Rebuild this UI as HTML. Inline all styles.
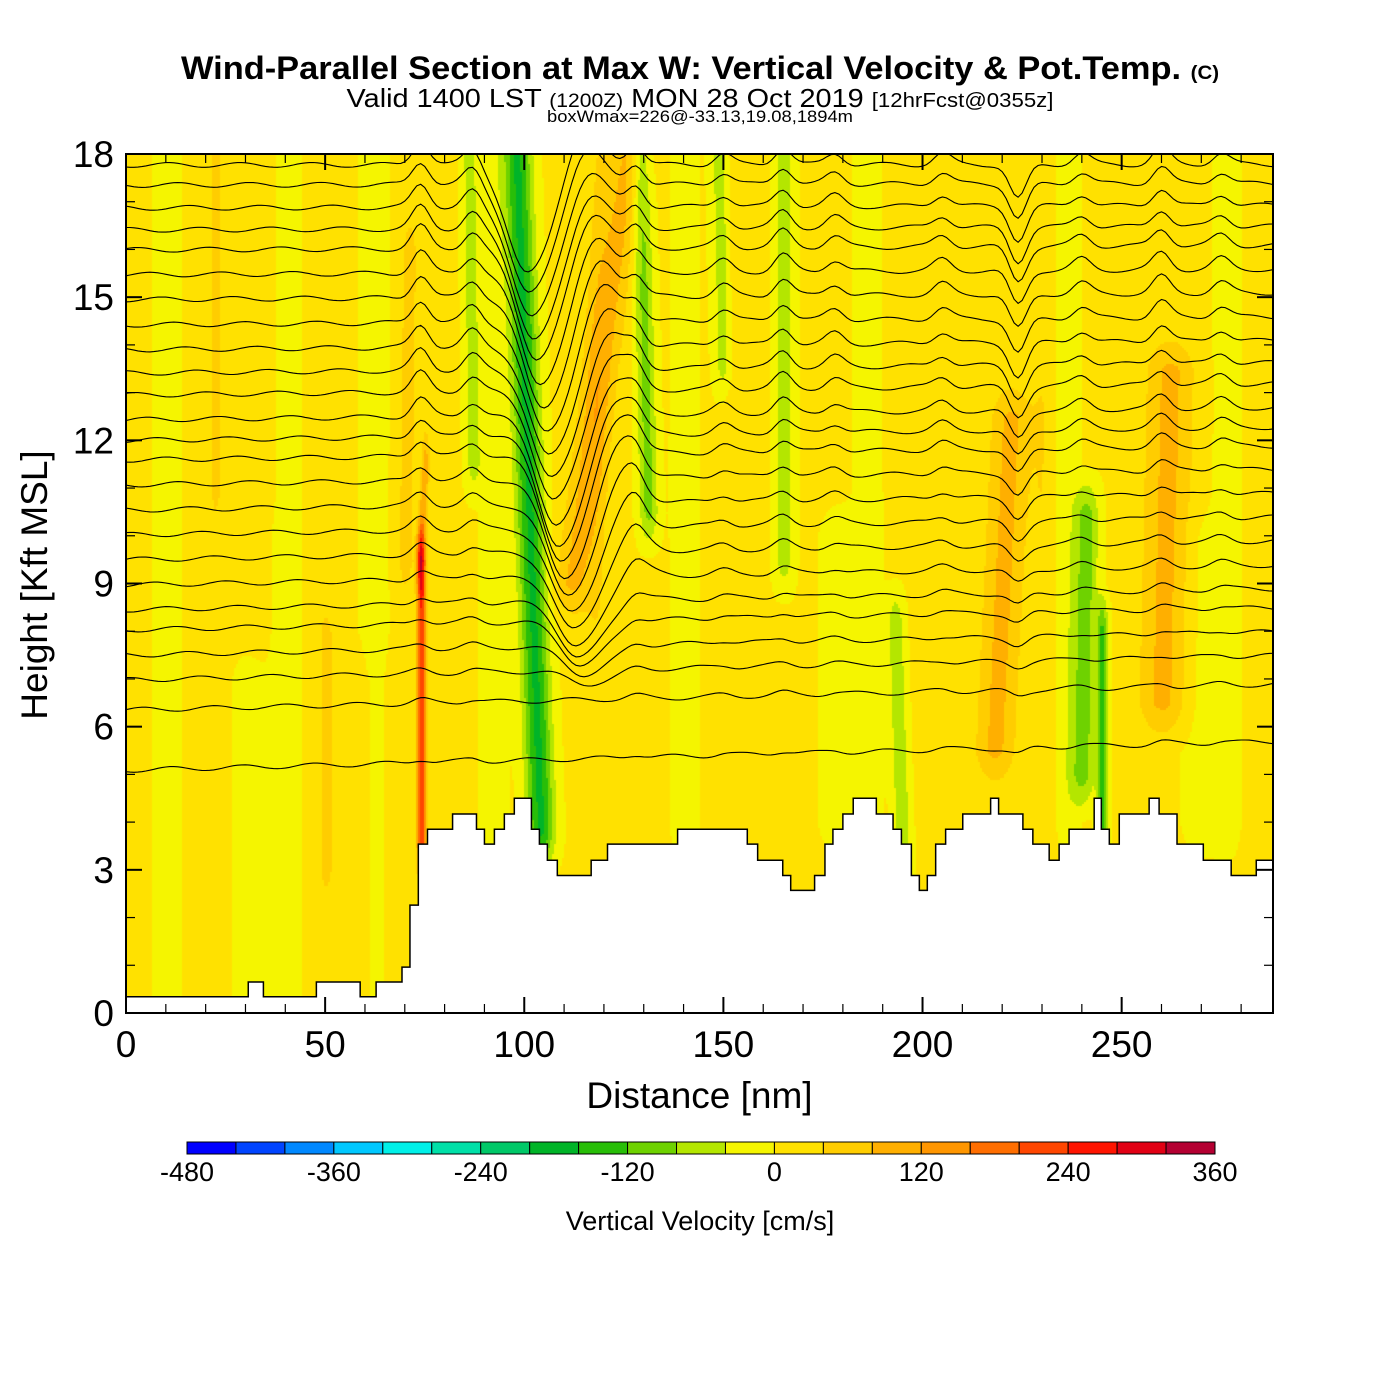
<!DOCTYPE html>
<html><head><meta charset="utf-8"><style>
html,body{margin:0;padding:0;background:#fff}
#root{position:relative;width:1400px;height:1400px;font-family:"Liberation Sans",sans-serif;overflow:hidden}
.t{position:absolute;white-space:nowrap;color:#000}
canvas{position:absolute;left:126px;top:154px}
svg{position:absolute;left:0;top:0}
</style></head><body>
<div id="root">
<div class="t" style="left:0;width:1400px;text-align:center;top:50px;font-size:32px;font-weight:bold;transform:scaleX(1.075);transform-origin:700px 0">Wind-Parallel Section at Max W: Vertical Velocity &amp; Pot.Temp. <span style="font-size:19px">(C)</span></div>
<div class="t" style="left:0;width:1400px;text-align:center;top:83px;font-size:26px;transform:scaleX(1.11);transform-origin:700px 0">Valid 1400 LST <span style="font-size:19px">(1200Z)</span> MON 28 Oct 2019 <span style="font-size:20px">[12hrFcst@0355z]</span></div>
<div class="t" style="left:0;width:1400px;text-align:center;top:107px;font-size:17px;transform:scaleX(1.08);transform-origin:700px 0">boxWmax=226@-33.13,19.08,1894m</div>
<canvas id="field" width="1147" height="859"></canvas>
<svg id="svg" width="1400" height="1400"></svg>
<div class="t" style="left:0;width:1399px;text-align:center;top:1075px;font-size:37px">Distance [nm]</div>
<div class="t" style="left:35px;top:585px;font-size:37px;transform:translate(-50%,-50%) rotate(-90deg)">Height [Kft MSL]</div>
<div class="t" style="left:0;width:1400px;text-align:center;top:1206px;font-size:27px">Vertical Velocity [cm/s]</div>
</div>
<script>
// ---- data ----
const colorBins = [-480,-440,-400,-360,-320,-280,-240,-200,-160,-120,-80,-40,0,40,80,120,160,200,240,280,320,360];
const binColors = ["#0000ff","#0044ff","#0088ff","#00c8ff","#00f0e8","#00e0a8","#00c868","#00b428","#28be08","#6ed200","#b4e600","#f5f500","#ffe100","#ffcd00","#ffaf00","#ff9600","#ff6e00","#ff4600","#ff1400","#e10014","#b40032"];
const cbTickValues = [-480,-360,-240,-120,0,120,240,360];
const xTicks = [0,50,100,150,200,250];
const yTicks = [0,3,6,9,12,15,18];
// terrain segments: start nm, height kft
const terrainStart = [0,30.7,34.5,47.8,58.8,62.8,69.3,71.3,73.4,75.7,82,88,90,92.5,95,97.5,101.8,103.8,105.8,108.3,116.8,120.9,138.5,156,158.6,164.9,166.9,172.9,175.5,177.5,180,182.6,188.4,192.6,194.7,197.2,199.2,201.2,203.3,205.8,210.1,217.1,219.1,225.2,227.7,231.8,234.3,236.8,243.1,244.9,246.9,249.4,256.9,259.4,263.9,270.5,277.5,283.8];
const terrainHeight = [0.34,0.65,0.34,0.65,0.34,0.65,0.96,2.26,3.54,3.85,4.17,3.85,3.54,3.85,4.17,4.5,3.85,3.54,3.2,2.88,3.2,3.54,3.85,3.54,3.2,2.88,2.57,2.88,3.54,3.85,4.17,4.5,4.17,3.85,3.54,2.88,2.57,2.88,3.54,3.85,4.17,4.5,4.17,3.85,3.54,3.2,3.54,3.85,4.5,3.85,3.54,4.17,4.5,4.17,3.54,3.2,2.88,3.2];
// w features: x at bottom, x at top, bottom kft, top kft, w (cm/s), half width nm
const featXBot = [74,73.5,104,112,131,150,165,87,195,240,245,218,260,70,50,10,40,62,92,140,186,236,276,22,118,152,230,30,60,180,270,30];
const featXTop = [74,75,98,126,129,149,165,86,193,241,245,222,262,71,50,10,40,62,92,140,186,236,276,22,118,152,230,30,60,180,270,30];
const featHBot = [3.5,9.5,3.8,9,10.5,13.5,9.5,11.5,3,5,3.5,5.5,6.5,9.5,3,0,0,0,0,4,4,4,4,0,4,4,4,0,0,4,4,11];
const featHTop = [9.5,11.5,18,18,18,18,18,18,8.2,10.5,8,12.5,13.5,16,8,18,18,18,18,18,18,18,18,18,18,18,18,7,7,10,10,18];
const featW = [240,110,-175,85,-100,-75,-70,-65,-80,-105,-135,85,85,65,50,-30,-30,-30,-30,-30,-30,-30,-30,30,30,30,30,-12,20,-20,-20,25];
const featHW = [1.1,1,3.4,4.5,2.4,2.4,2.4,2,2,3,1.4,5,6,1.8,2,3,3,3,3,3,3,3,3,3,3,3,3,7,5,6,5,7];
// potential temperature contours: height at x=0 (kft)
const thetaBaseLeft = [5.09,6.35,6.98,7.5,8.03,8.45,8.97,9.5,10.02,10.54,11.07,11.59,12.0,12.43,12.95,13.41,13.9,14.42,14.95,15.47,15.99,16.41,16.87,17.35,17.77];
const bumpX = [74,87,128,150,165,178,205,224,240,260,275];
const bumpA = [0.4,0.3,0.35,0.2,0.3,0.2,0.2,-0.6,0.2,0.3,0.2];

// ---- axes ----
const X0=126,X1=1273,Y0=1013,Y1=154,XMAX=288,YMAX=18;
const sx = v => X0 + v/XMAX*(X1-X0);
const sy = v => Y0 - v/YMAX*(Y0-Y1);
function wAt(x,h){
  let w=6;
  for(let i=0;i<featW.length;i++){
    const hb=featHBot[i],ht=featHTop[i];
    if(h<hb-1.2||h>ht+1.2)continue;
    const f=Math.max(0,Math.min(1,(h-hb+1)/1))*Math.max(0,Math.min(1,(ht+1-h)/1));
    const t=Math.max(0,Math.min(1,(h-hb)/Math.max(0.1,ht-hb)));
    const xc=featXBot[i]+(featXTop[i]-featXBot[i])*t;
    const d=(x-xc)/featHW[i];
    w+=featW[i]*f*Math.exp(-d*d);
  }
  return w;
}
const cv=document.getElementById('field'),ctx=cv.getContext('2d');
const W=cv.width,H=cv.height,img=ctx.createImageData(W,H);
const rgb=binColors.map(c=>[parseInt(c.substr(1,2),16),parseInt(c.substr(3,2),16),parseInt(c.substr(5,2),16)]);
for(let px=0;px<W;px+=2){
  const x=px/W*XMAX;
  for(let py=0;py<H;py+=2){
    const h=YMAX-py/H*YMAX;
    let k=Math.floor((wAt(x,h)+480)/40);k=Math.max(0,Math.min(20,k));
    const c=rgb[k];
    for(let a=0;a<2;a++)for(let b=0;b<2;b++){const xx=px+a,yy=py+b;if(xx<W&&yy<H){const o=(yy*W+xx)*4;img.data[o]=c[0];img.data[o+1]=c[1];img.data[o+2]=c[2];img.data[o+3]=255;}}
  }
}
ctx.putImageData(img,0,0);

// ---- svg overlay ----
const NS='http://www.w3.org/2000/svg',svg=document.getElementById('svg');
function el(tag,attrs,parent){const e=document.createElementNS(NS,tag);for(const k in attrs)e.setAttribute(k,attrs[k]);(parent||svg).appendChild(e);return e;}
let tp=`M${sx(0)},${Y0}`;
for(let i=0;i<terrainStart.length;i++){const xe=i+1<terrainStart.length?terrainStart[i+1]:XMAX;tp+=` L${sx(terrainStart[i])},${sy(terrainHeight[i])} L${sx(xe)},${sy(terrainHeight[i])}`;}
tp+=` L${sx(XMAX)},${Y0} Z`;
const defs=el('defs',{});
const cp=el('clipPath',{id:'above'},defs);
let ap=`M${sx(0)},${Y1}`;
for(let i=0;i<terrainStart.length;i++){const xe=i+1<terrainStart.length?terrainStart[i+1]:XMAX;ap+=` L${sx(terrainStart[i])},${sy(terrainHeight[i])} L${sx(xe)},${sy(terrainHeight[i])}`;}
ap+=` L${sx(XMAX)},${Y1} Z`;
el('path',{d:ap},cp);
const cg=el('g',{'clip-path':'url(#above)'});


function dip(x,h){
  const c=113-(h-9)*1.4;
  let A; if(h>=12)A=-2.3; else if(h>=9)A=-1.5-(h-9)/3*0.8; else A=-Math.max(0,(h-6.5))/2.5*1.5;
  const d=x-c;
  if(d<0)return A*Math.exp(-(d/7)*(d/7));
  return A*Math.exp(-(d/9)*(d/9))+0.9*Math.max(0,Math.min(1,(h-8)/3))*Math.exp(-((d-14)/6)*((d-14)/6));
}
function thetaY(base,x){
  const f=Math.max(0,Math.min(1,(base-7)/7));
  let h=base+0.6*(1-Math.max(0,Math.min(1,(base-5)/13)))*x/XMAX;
  h+=dip(x,base);
  for(let i=0;i<bumpX.length;i++){const d=(x-bumpX[i])/3;h+=bumpA[i]*(0.2+f)*Math.exp(-d*d);}
  h+=0.05*Math.sin(x*0.35+base*2);
  return h;
}
thetaBaseLeft.forEach((b,i)=>{
  let d='';
  for(let x=0;x<=XMAX;x+=1){const h=thetaY(b,x);d+=(x?' L':'M')+sx(x).toFixed(1)+','+sy(h).toFixed(1);}
  const p=el('path',{d:d,fill:'none',stroke:'#000','stroke-width':1.1},cg);
  
  
});
const terr=el('path',{d:tp,fill:'#fff',stroke:'#000','stroke-width':1.5});


const fr=el('rect',{x:X0,y:Y1,width:X1-X0,height:Y0-Y1,fill:'none',stroke:'#000','stroke-width':2});


for(let v=0;v<=XMAX;v+=10){const L=v%50===0?16:9;
  el('line',{x1:sx(v),x2:sx(v),y1:Y0,y2:Y0-L,stroke:'#000','stroke-width':v%50===0?2:1.2});
  el('line',{x1:sx(v),x2:sx(v),y1:Y1,y2:Y1+L,stroke:'#000','stroke-width':v%50===0?2:1.2});}
for(let v=0;v<=YMAX;v+=1){const L=v%3===0?16:9;
  el('line',{x1:X0,x2:X0+L,y1:sy(v),y2:sy(v),stroke:'#000','stroke-width':v%3===0?2:1.2});
  el('line',{x1:X1,x2:X1-L,y1:sy(v),y2:sy(v),stroke:'#000','stroke-width':v%3===0?2:1.2});}
xTicks.forEach(v=>{const t=el('text',{x:sx(v),y:1057,'font-size':37,'text-anchor':'middle','font-family':'Liberation Sans, sans-serif'});t.textContent=v;
  
  });
yTicks.forEach(v=>{const t=el('text',{x:114,y:sy(v)+13,'font-size':37,'text-anchor':'end','font-family':'Liberation Sans, sans-serif'});t.textContent=v;
  
  });
const CB0=187,CB1=1215,CBY=1142,CBH=12;
const cbx=v=>CB0+(v-colorBins[0])/(colorBins[colorBins.length-1]-colorBins[0])*(CB1-CB0);
for(let i=0;i<binColors.length;i++){
  const r=el('rect',{x:cbx(colorBins[i]),y:CBY,width:cbx(colorBins[i+1])-cbx(colorBins[i]),height:CBH,fill:binColors[i],stroke:'#000','stroke-width':1});
  
  
}
cbTickValues.forEach(v=>{const t=el('text',{x:cbx(v),y:1181,'font-size':27,'text-anchor':'middle','font-family':'Liberation Sans, sans-serif'});t.textContent=v;
  
  });
</script>
</body></html>
